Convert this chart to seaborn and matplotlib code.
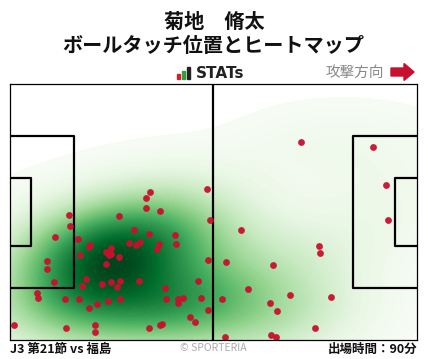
import matplotlib
matplotlib.use("Agg")
import matplotlib.pyplot as plt
import matplotlib.patches as mpatches
import seaborn as sns
import pandas as pd
import numpy as np

sns.set_theme(style="white")
plt.rcParams['font.family'] = ['Noto Sans CJK JP', 'DejaVu Sans']

# ball touch positions (metres, x: 0-105 attack to right, y: 0 top - 68 bottom)
touch_x = [50.8, 36.2, 35.2, 35.2, 38.8, 15.3, 28.2, 51.6, 15.6, 32.1,
           36.0, 42.7, 11.7, 17.6, 33.6, 30.8, 32.6, 38.5, 42.9, 20.7,
           20.5, 26.2, 38.0, 24.9, 26.2, 25.6, 18.2, 28.2, 9.6, 51.2,
           24.9, 9.6, 19.7, 48.6, 33.4, 28.5, 26.2, 23.8, 11.4, 18.7,
           27.7, 40.1, 7.0, 7.3, 14.3, 17.9, 28.5, 25.4, 40.4, 43.5,
           44.7, 43.5, 49.4, 22.5, 20.5, 51.2, 46.6, 47.8, 1.1, 14.5,
           22.0, 22.0, 36.0, 38.8, 39.3,
           75.2, 93.8, 97.2, 97.7, 59.7, 79.9, 80.1, 55.8, 68.0, 61.5,
           54.8, 72.4, 83.0, 67.2, 69.0, 78.8, 55.6, 67.5, 68.8]
touch_y = [28.0, 28.8, 30.4, 33.0, 33.8, 34.9, 35.1, 36.1, 37.8, 38.9,
           39.9, 40.2, 40.7, 41.2, 42.0, 42.3, 42.8, 42.6, 42.6, 42.8,
           43.4, 43.6, 43.9, 44.7, 45.2, 45.5, 45.5, 46.0, 47.1, 46.8,
           47.9, 49.2, 51.9, 52.4, 52.4, 52.4, 52.7, 53.2, 52.7, 53.7,
           54.0, 54.3, 55.6, 56.9, 57.2, 57.2, 57.2, 57.7, 57.2, 57.2,
           56.9, 58.2, 56.9, 58.5, 59.6, 60.1, 62.0, 63.3, 64.1, 64.9,
           64.1, 66.0, 64.9, 64.1, 63.8,
           15.5, 16.8, 26.9, 36.2, 38.9, 43.1, 45.0, 47.4, 48.2, 54.5,
           57.2, 56.1, 56.7, 58.2, 60.4, 64.9, 67.3, 66.7, 67.3]

title_name = "菊地　脩太"
title_sub = "ボールタッチ位置とヒートマップ"
match_label = "J3 第21節 vs 福島"
minutes_label = "出場時間：90分"
copyright_label = "© SPORTERIA"
direction_label = "攻撃方向"

df = pd.DataFrame({"x": touch_x, "y": touch_y})

W, H = 428, 359
fig = plt.figure(figsize=(W / 100, H / 100), dpi=100)
fig.patch.set_facecolor("white")

left, right, top, bottom = 10, 416.7, 84, 340
ax = fig.add_axes([left / W, (H - bottom) / H, (right - left) / W, (bottom - top) / H])
ax.set_facecolor("white")

sns.kdeplot(data=df, x="x", y="y", fill=True, cmap="Greens", levels=100,
            thresh=0.01, bw_adjust=1.3, gridsize=200, ax=ax, zorder=1)
sns.scatterplot(data=df, x="x", y="y", color="#c8102e", s=24, linewidth=0,
                alpha=0.95, ax=ax, zorder=5)

lw_box = 1.6
# halfway line
ax.plot([52.5, 52.5], [0, 68], color="black", lw=lw_box, zorder=3)
# penalty areas
pa_w, pa_d = 40.32, 16.5
ga_w, ga_d = 18.32, 5.5
for x0, d in [(0, 1), (105, -1)]:
    ax.plot([x0, x0 + d * pa_d, x0 + d * pa_d, x0],
            [34 - pa_w / 2, 34 - pa_w / 2, 34 + pa_w / 2, 34 + pa_w / 2],
            color="black", lw=lw_box, zorder=3)
    ax.plot([x0, x0 + d * ga_d, x0 + d * ga_d, x0],
            [34 - ga_w / 2, 34 - ga_w / 2, 34 + ga_w / 2, 34 + ga_w / 2],
            color="black", lw=lw_box, zorder=3)

ax.set_xlim(0, 105)
ax.set_ylim(68, 0)
ax.set_xlabel("")
ax.set_ylabel("")
ax.set_xticks([])
ax.set_yticks([])
for sp in ax.spines.values():
    sp.set_visible(True)
    sp.set_color("black")
    sp.set_linewidth(0.9)
    sp.set_zorder(6)

def fy(py):
    return 1 - py / H

def fx(px):
    return px / W

fig.text(fx(214), fy(21), title_name, ha="center", va="center",
         fontsize=14.5, fontweight="bold", color="#111111")
fig.text(fx(213), fy(46), title_sub, ha="center", va="center",
         fontsize=14.5, fontweight="bold", color="#111111")

# STATs logo
for bx, bh, col in [(177, 5, "#d0202e"), (182, 8, "#2e9e3e"), (187, 12, "#222222")]:
    fig.patches.append(mpatches.Rectangle((fx(bx), fy(79)), 3.2 / W, bh / H,
                                          transform=fig.transFigure,
                                          color=col, zorder=10))
fig.text(fx(196), fy(74), "STATs", ha="left", va="center", fontsize=11,
         fontweight="bold", color="#222222", family=["DejaVu Sans"])

fig.text(fx(384), fy(72.5), direction_label, ha="right", va="center",
         fontsize=10.5, color="#888888")
fig.patches.append(mpatches.FancyArrow(fx(391), fy(72), 13 / W, 0,
                                       width=8 / H, head_width=17 / H,
                                       head_length=10 / W, length_includes_head=False,
                                       transform=fig.transFigure,
                                       color="#c8102e", zorder=10))

fig.text(fx(10), fy(349), match_label, ha="left", va="center",
         fontsize=9, fontweight="bold", color="#111111")
fig.text(fx(213), fy(348), copyright_label, ha="center", va="center",
         fontsize=7.5, color="#aaaaaa")
fig.text(fx(417), fy(349), minutes_label, ha="right", va="center",
         fontsize=9, fontweight="bold", color="#111111")

fig.savefig("out.png", dpi=100, facecolor="white")
